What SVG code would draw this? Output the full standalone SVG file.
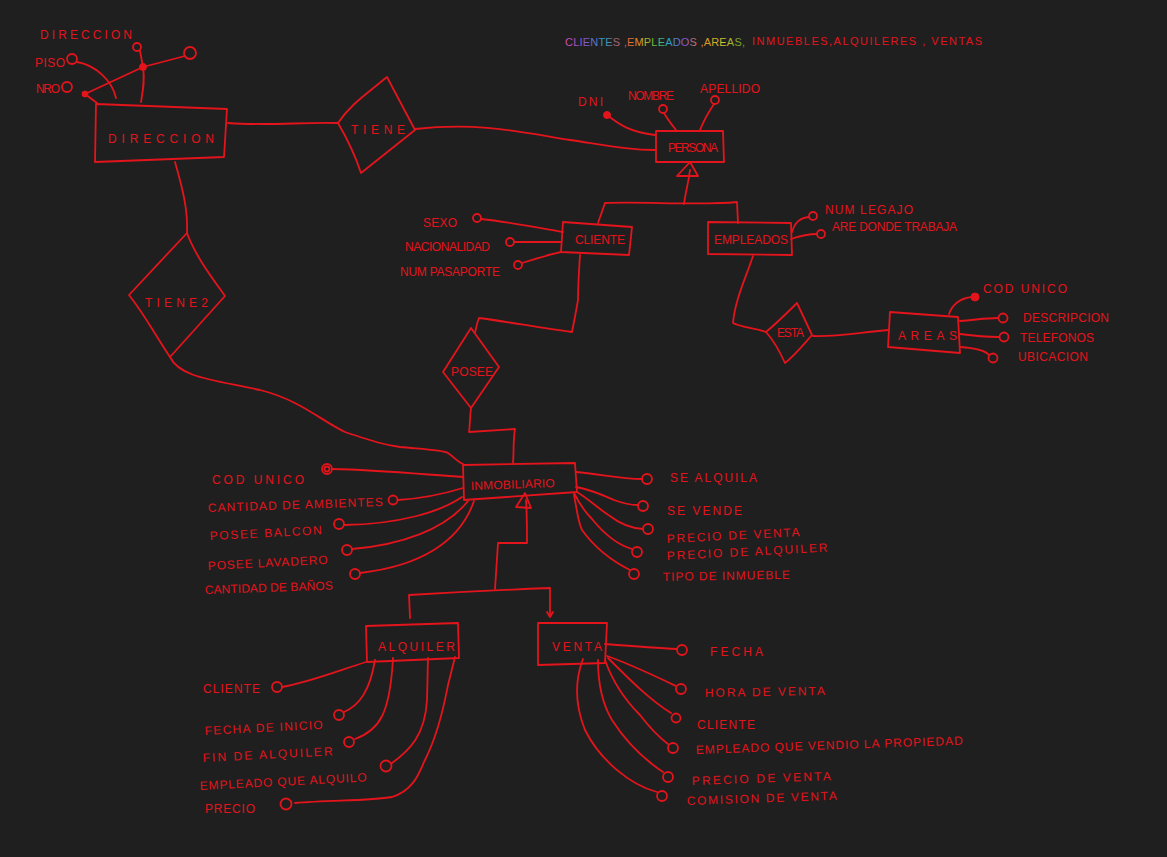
<svg xmlns="http://www.w3.org/2000/svg" width="1167" height="857" viewBox="0 0 1167 857">
<defs>
<style>
.s{fill:none;stroke:#e3141c;stroke-width:1.8;stroke-linecap:round;stroke-linejoin:round}
.c{fill:none;stroke:#e3141c;stroke-width:1.8}
.d{fill:#e3141c;stroke:#e3141c;stroke-width:1}
.t{fill:#e3141c;font-family:"Liberation Sans",Arial,sans-serif;font-size:12px}
.h{font-family:"Liberation Sans",Arial,sans-serif;font-size:11px}
</style>
<linearGradient id="rb" gradientUnits="userSpaceOnUse" x1="565" y1="0" x2="745" y2="0">
<stop offset="0" stop-color="#d84aa8"/>
<stop offset="0.12" stop-color="#7a5ad8"/>
<stop offset="0.22" stop-color="#2a9ac8"/>
<stop offset="0.32" stop-color="#e04848"/>
<stop offset="0.42" stop-color="#e0a020"/>
<stop offset="0.5" stop-color="#60c040"/>
<stop offset="0.58" stop-color="#20a0d0"/>
<stop offset="0.66" stop-color="#8a50d0"/>
<stop offset="0.76" stop-color="#e08a20"/>
<stop offset="0.88" stop-color="#d0c030"/>
<stop offset="1" stop-color="#5a9a20"/>
</linearGradient>
</defs>
<rect width="1167" height="857" fill="#201f1f"/>

<g id="header">
<text class="h" x="565" y="46" textLength="180" lengthAdjust="spacing" fill="url(#rb)">CLIENTES ,EMPLEADOS ,AREAS,</text>
<text class="h" x="752" y="45" textLength="230" lengthAdjust="spacing" fill="#e3141c">INMUEBLES,ALQUILERES , VENTAS</text>
</g>

<g id="connectors">
<path class="s" d="M77,62 C95,65 112,80 116,98"/>
<path class="s" d="M140,51 L143,67 L185,56"/>
<path class="s" d="M143,67 C145,80 143,90 141,102"/>
<path class="s" d="M143,67 L85,94 L97,103"/>
<path class="s" d="M228,123 C270,126 300,122 338,123"/>
<path class="s" d="M415,129 C480,122 520,132 570,140 C610,146 630,150 655,150"/>
<path class="s" d="M175,162 C183,190 188,210 187,233"/>
<path class="s" d="M170,357 C180,378 215,380 260,390 C300,400 320,420 345,432 C375,442 385,445 400,447 C420,449 443,450 448,453 C455,458 458,462 463,464"/>
<path class="s" d="M607,115 C620,125 630,132 655,135"/>
<path class="s" d="M664,113 C668,120 672,125 676,130"/>
<path class="s" d="M714,104 C708,113 704,120 700,130"/>
<path class="s" d="M690,162 L677,176 L698,176 Z"/>
<path class="s" d="M690,170 C688,185 685,195 684,204"/>
<path class="s" d="M598,223 L605,203 C640,201 700,206 737,202 L738,223"/>
<path class="s" d="M481,219 C510,222 540,228 563,232"/>
<path class="s" d="M514,242 L561,242"/>
<path class="s" d="M522,263 C535,259 548,255 561,252"/>
<path class="s" d="M792,232 C795,222 800,218 809,217"/>
<path class="s" d="M791,239 C800,236 808,234 817,234"/>
<path class="s" d="M753,256 C745,280 735,300 733,323 C740,327 755,328 766,332"/>
<path class="s" d="M813,336 C840,337 860,332 889,330"/>
<path class="s" d="M949,314 C952,305 960,298 972,297"/>
<path class="s" d="M960,321 C975,320 985,318 998,318"/>
<path class="s" d="M960,334 C975,336 988,337 999,337"/>
<path class="s" d="M960,347 C975,348 985,350 989,355"/>
<path class="s" d="M580,255 C579,270 578,285 578,300 C576,312 574,322 572,332 C540,328 510,322 479,318 C477,323 476,328 475,333"/>
<path class="s" d="M471,408 C470,416 470,425 469,432 C485,431 500,430 515,429 C513,440 514,452 513,463"/>
<path class="s" d="M332,469 C380,470 430,475 463,477"/>
<path class="s" d="M398,500 C430,498 450,492 463,488"/>
<path class="s" d="M344,525 C400,524 440,512 462,497"/>
<path class="s" d="M352,549 C400,545 445,530 468,501"/>
<path class="s" d="M360,573 C420,566 460,542 474,501"/>
<path class="s" d="M576,472 C600,474 620,479 642,479"/>
<path class="s" d="M576,487 C592,490 605,496 614,500 C622,503 630,505 638,505"/>
<path class="s" d="M577,492 C590,500 600,510 610,516 C620,524 630,528 643,529"/>
<path class="s" d="M574,493 C580,505 585,512 592,519 C605,535 618,545 632,549"/>
<path class="s" d="M574,495 C577,510 578,522 582,530 C595,548 610,560 630,570"/>
<path class="s" d="M525,493 L516,507 L531,508 Z"/>
<path class="s" d="M526,500 C527,515 527,530 527,543 L498,543 C497,560 496,575 495,589"/>
<path class="s" d="M410,618 L409,595 C460,592 500,590 550,588 L550,616"/>
<path class="s" d="M547,612 L550,617 L553,612"/>
<path class="s" d="M282,687 C310,682 340,670 366,662"/>
<path class="s" d="M344,712 C360,705 370,690 375,660"/>
<path class="s" d="M355,739 C380,730 390,713 393,658"/>
<path class="s" d="M392,763 C410,750 425,735 427,700 L428,658"/>
<path class="s" d="M295,803 C330,800 370,801 392,797 C415,790 420,770 425,760 C440,730 445,700 448,685 L455,657"/>
<path class="s" d="M605,644 C630,646 655,648 677,649"/>
<path class="s" d="M607,656 C630,664 655,676 676,686"/>
<path class="s" d="M608,658 C630,680 650,700 671,713"/>
<path class="s" d="M605,660 C612,680 625,700 640,715 C650,728 660,738 668,744"/>
<path class="s" d="M598,660 C598,685 603,705 612,720 C630,748 648,762 663,772"/>
<path class="s" d="M583,659 C575,680 575,705 585,730 C600,760 630,785 657,792"/>
</g>

<g id="direccion-attrs">
<text class="t" x="40" y="39" font-size="15" textLength="92" lengthAdjust="spacing">DIRECCION</text>
<text class="t" x="35" y="67" font-size="13" textLength="30" lengthAdjust="spacing">PISO</text>
<circle class="c" cx="72" cy="59" r="5"/>
<text class="t" x="36" y="93" font-size="11" textLength="24" lengthAdjust="spacing">NRO</text>
<circle class="c" cx="67" cy="87" r="5"/>
<circle class="c" cx="137" cy="47" r="4"/>
<circle class="c" cx="190" cy="53" r="6"/>
<circle class="d" cx="143" cy="67" r="3.5"/>
<circle class="d" cx="85" cy="94" r="3"/>
</g>

<g id="direccion">
<path class="s" d="M96,104 L227,109 L224,157 L95,162 Z"/>
<text class="t" x="108" y="143" font-size="20" textLength="106" lengthAdjust="spacing">DIRECCION</text>
</g>

<g id="tiene">
<path class="s" d="M338,123 C350,105 365,95 387,77 L415,130 L361,173 C355,155 348,140 338,123 Z"/>
<text class="t" x="351" y="134" font-size="16" textLength="54" lengthAdjust="spacing">TIENE</text>
</g>

<g id="tiene2">
<path class="s" d="M187,233 C195,255 210,275 225,296 L170,357 C155,335 145,315 129,295 Z"/>
<text class="t" x="145" y="307" font-size="16" textLength="63" lengthAdjust="spacing">TIENE2</text>
</g>

<g id="persona">
<path class="s" d="M656,131 L723,131 L724,162 L656,162 Z"/>
<text class="t" x="668" y="152" font-size="9" textLength="50" lengthAdjust="spacing">PERSONA</text>
</g>
<g id="persona-attrs">
<text class="t" x="578" y="106" font-size="12" textLength="25" lengthAdjust="spacing">DNI</text>
<circle class="d" cx="607" cy="115" r="3.5"/>
<text class="t" x="628" y="100" font-size="8.5" textLength="46" lengthAdjust="spacing">NOMBRE</text>
<circle class="c" cx="663" cy="109" r="4"/>
<text class="t" x="700" y="93" font-size="9" textLength="60" lengthAdjust="spacing">APELLIDO</text>
<circle class="c" cx="715" cy="100" r="4"/>
</g>

<g id="cliente">
<path class="s" d="M563,222 L632,227 L629,255 L561,252 Z"/>
<text class="t" x="575" y="244" font-size="10" textLength="50" lengthAdjust="spacing">CLIENTE</text>
</g>
<g id="cliente-attrs">
<text class="t" x="423" y="227" font-size="10" textLength="34" lengthAdjust="spacing">SEXO</text>
<circle class="c" cx="477" cy="218" r="4"/>
<text class="t" x="405" y="251" font-size="8" textLength="85" lengthAdjust="spacing">NACIONALIDAD</text>
<circle class="c" cx="510" cy="242" r="4"/>
<text class="t" x="400" y="276" font-size="9" textLength="100" lengthAdjust="spacing">NUM PASAPORTE</text>
<circle class="c" cx="518" cy="265" r="4"/>
</g>

<g id="empleados">
<path class="s" d="M708,222 L791,223 L792,255 L708,254 Z"/>
<text class="t" x="714" y="244" font-size="10" textLength="74" lengthAdjust="spacing">EMPLEADOS</text>
</g>
<g id="empleados-attrs">
<circle class="c" cx="813" cy="216" r="4"/>
<text class="t" x="825" y="214" font-size="9" textLength="88" lengthAdjust="spacing">NUM LEGAJO</text>
<circle class="c" cx="821" cy="234" r="4"/>
<text class="t" x="832" y="231" font-size="8.5" textLength="125" lengthAdjust="spacing">ARE DONDE TRABAJA</text>
</g>

<g id="esta">
<path class="s" d="M766,332 C778,322 788,312 797,303 L812,335 C803,345 795,355 785,363 C780,352 775,342 766,332 Z"/>
<text class="t" x="777" y="337" font-size="9" textLength="27" lengthAdjust="spacing">ESTA</text>
</g>

<g id="areas">
<path class="s" d="M890,312 L958,317 L960,353 L888,347 Z"/>
<text class="t" x="898" y="340" font-size="14" textLength="59" lengthAdjust="spacing">AREAS</text>
</g>
<g id="areas-attrs">
<circle class="d" cx="975" cy="297" r="4"/>
<text class="t" x="983" y="293" font-size="12" textLength="84" lengthAdjust="spacing">COD UNICO</text>
<circle class="c" cx="1003" cy="318" r="4.5"/>
<text class="t" x="1023" y="322" font-size="11" textLength="86" lengthAdjust="spacing">DESCRIPCION</text>
<circle class="c" cx="1004" cy="337" r="4.5"/>
<text class="t" x="1020" y="342" font-size="11" textLength="74" lengthAdjust="spacing">TELEFONOS</text>
<circle class="c" cx="993" cy="358" r="4.5"/>
<text class="t" x="1018" y="361" font-size="11" textLength="70" lengthAdjust="spacing">UBICACION</text>
</g>

<g id="posee">
<path class="s" d="M471,328 L499,367 L471,408 L443,372 Z"/>
<text class="t" x="451" y="376" font-size="11" textLength="42" lengthAdjust="spacing">POSEE</text>
</g>

<g id="inmobiliario">
<path class="s" d="M463,465 L575,463 L577,492 L464,500 Z"/>
<text class="t" x="471" y="490" font-size="11" textLength="84" lengthAdjust="spacing" transform="rotate(-2 471 490)">INMOBILIARIO</text>
</g>
<g id="inmobiliario-attrs">
<text class="t" x="212" y="484" font-size="15" textLength="92" lengthAdjust="spacing">COD UNICO</text>
<circle class="c" cx="327" cy="469" r="5"/>
<circle class="c" cx="327" cy="469" r="2.5"/>
<text class="t" x="208" y="512" font-size="12" textLength="175" lengthAdjust="spacing" transform="rotate(-2 208 512)">CANTIDAD DE AMBIENTES</text>
<circle class="c" cx="393" cy="500" r="4.5"/>
<text class="t" x="210" y="540" font-size="13" textLength="112" lengthAdjust="spacing" transform="rotate(-3 210 540)">POSEE BALCON</text>
<circle class="c" cx="339" cy="524" r="5"/>
<text class="t" x="208" y="570" font-size="13" textLength="120" lengthAdjust="spacing" transform="rotate(-3 208 570)">POSEE LAVADERO</text>
<circle class="c" cx="347" cy="550" r="5"/>
<text class="t" x="205" y="594" font-size="11" textLength="128" lengthAdjust="spacing" transform="rotate(-2 205 594)">CANTIDAD DE BAÑOS</text>
<circle class="c" cx="355" cy="574" r="5"/>

<circle class="c" cx="647" cy="479" r="5"/>
<text class="t" x="670" y="482" font-size="13" textLength="87" lengthAdjust="spacing">SE ALQUILA</text>
<circle class="c" cx="643" cy="506" r="5"/>
<text class="t" x="667" y="515" font-size="13" textLength="75" lengthAdjust="spacing">SE VENDE</text>
<circle class="c" cx="648" cy="529" r="5"/>
<text class="t" x="667" y="543" font-size="12" textLength="133" lengthAdjust="spacing" transform="rotate(-3 667 543)">PRECIO DE VENTA</text>
<circle class="c" cx="637" cy="552" r="5"/>
<text class="t" x="667" y="560" font-size="12" textLength="161" lengthAdjust="spacing" transform="rotate(-3 667 560)">PRECIO DE ALQUILER</text>
<circle class="c" cx="634" cy="574" r="5"/>
<text class="t" x="663" y="581" font-size="12" textLength="127" lengthAdjust="spacing" transform="rotate(-1 663 581)">TIPO DE INMUEBLE</text>
</g>

<g id="alquiler">
<path class="s" d="M366,626 L458,623 L459,658 L367,662 Z"/>
<text class="t" x="378" y="651" font-size="15" textLength="77" lengthAdjust="spacing">ALQUILER</text>
</g>
<g id="alquiler-attrs">
<text class="t" x="203" y="693" font-size="12" textLength="57" lengthAdjust="spacing">CLIENTE</text>
<circle class="c" cx="277" cy="687" r="5"/>
<text class="t" x="205" y="735" font-size="12" textLength="118" lengthAdjust="spacing" transform="rotate(-3 205 735)">FECHA DE INICIO</text>
<circle class="c" cx="339" cy="715" r="5"/>
<text class="t" x="203" y="762" font-size="13" textLength="130" lengthAdjust="spacing" transform="rotate(-3 203 762)">FIN DE ALQUILER</text>
<circle class="c" cx="349" cy="742" r="5"/>
<text class="t" x="200" y="790" font-size="11" textLength="167" lengthAdjust="spacing" transform="rotate(-3 200 790)">EMPLEADO QUE ALQUILO</text>
<circle class="c" cx="386" cy="766" r="5.5"/>
<text class="t" x="205" y="813" font-size="11" textLength="50" lengthAdjust="spacing">PRECIO</text>
<circle class="c" cx="286" cy="804" r="5.5"/>
</g>

<g id="venta">
<path class="s" d="M538,623 L607,623 L605,663 L538,665 Z"/>
<text class="t" x="552" y="651" font-size="14" textLength="50" lengthAdjust="spacing">VENTA</text>
</g>
<g id="venta-attrs">
<circle class="c" cx="682" cy="650" r="5"/>
<text class="t" x="710" y="656" font-size="13" textLength="53" lengthAdjust="spacing">FECHA</text>
<circle class="c" cx="681" cy="689" r="5"/>
<text class="t" x="705" y="697" font-size="12" textLength="120" lengthAdjust="spacing" transform="rotate(-1 705 697)">HORA DE VENTA</text>
<circle class="c" cx="676" cy="718" r="4.5"/>
<text class="t" x="697" y="729" font-size="12" textLength="58" lengthAdjust="spacing">CLIENTE</text>
<circle class="c" cx="673" cy="748" r="5"/>
<text class="t" x="696" y="754" font-size="11" textLength="267" lengthAdjust="spacing" transform="rotate(-2 696 754)">EMPLEADO QUE VENDIO LA PROPIEDAD</text>
<circle class="c" cx="668" cy="777" r="5"/>
<text class="t" x="692" y="785" font-size="12" textLength="139" lengthAdjust="spacing" transform="rotate(-2 692 785)">PRECIO DE VENTA</text>
<circle class="c" cx="662" cy="796" r="5"/>
<text class="t" x="687" y="805" font-size="11" textLength="150" lengthAdjust="spacing" transform="rotate(-2 687 805)">COMISION DE VENTA</text>
</g>
</svg>
